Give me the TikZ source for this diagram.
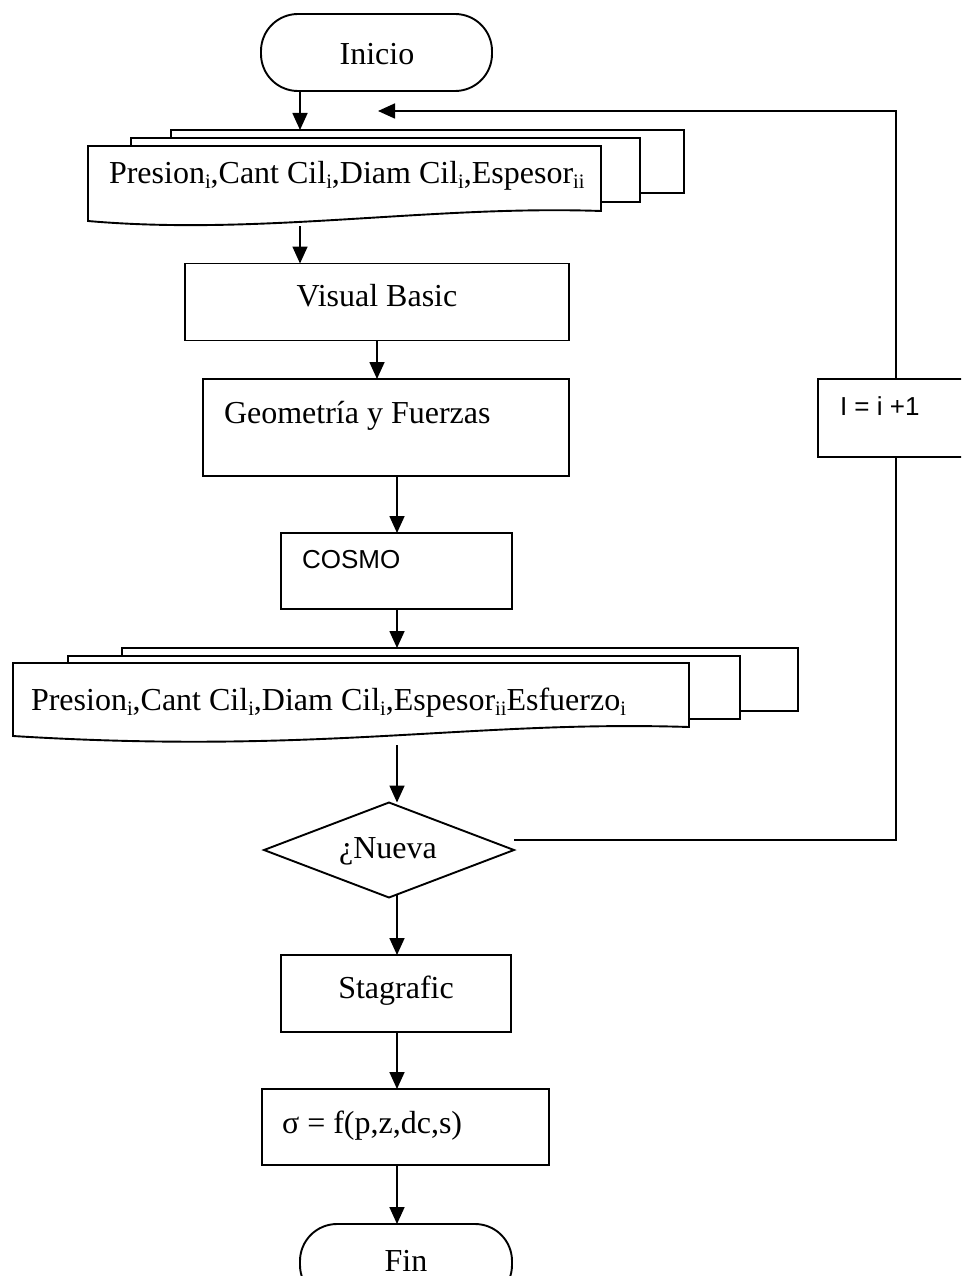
\documentclass[tikz,border=0pt]{standalone}
\usepackage{fontspec}
\setmainfont{Liberation Serif}
\newfontfamily\arialf{Liberation Sans}
\usetikzlibrary{arrows.meta,shapes.geometric}
\newcommand\sbs[1]{\raisebox{-5pt}{\fontsize{20.5}{21}\selectfont #1}}
\begin{document}
\begin{tikzpicture}[x=1pt,y=-1pt,
  every node/.style={inner sep=0pt, outer sep=0pt},
  ln/.style={line width=1.9pt},
  box/.style={draw, line width=1.9pt, fill=white},
  arr/.style={line width=1.7pt, -{Triangle[length=17pt,width=15pt]}},
  tms/.style={font=\fontsize{32}{37}\selectfont},
  ari/.style={font=\arialf\fontsize{26}{30}\selectfont},
]
\useasboundingbox (0,0) rectangle (961,1276);
\clip (0,0) rectangle (961,1276);

\coordinate (c300) at (300,0);
\coordinate (c397) at (397,0);

% Inicio
\node[box, rounded corners=37pt, minimum width=231pt, minimum height=77pt] (inicio) at (376.5,52.5) {};
\node[tms, anchor=base] (iniciot) at (377,65) {Inicio};

% document stack 1
\node[box, anchor=north west, minimum width=513pt, minimum height=63pt] (d1c) at (171,130) {};
\node[box, anchor=north west, minimum width=509pt, minimum height=64pt] (d1b) at (131,138) {};
\draw[ln, fill=white] (88,146) -- (601,146) -- (601,211) .. controls (430,205) and (260,236) .. (88,221) -- cycle;
\node[tms, anchor=base west] (d1t) at (109,184) {Presion\sbs{i},Cant Cil\sbs{i},Diam Cil\sbs{i},Espesor\sbs{ii}};
\coordinate (d1bot) at (300,226);

% Visual Basic
\node[box, minimum width=384pt, minimum height=77pt] (vb) at (377,302) {};
\node[tms, anchor=base] (vbt) at (377,306) {Visual Basic};

% Geometria
\node[box, minimum width=366pt, minimum height=97pt] (geo) at (386,427.5) {};
\node[tms, anchor=base west] (geot) at (224,423) {Geometría y Fuerzas};

% COSMO
\node[box, minimum width=231pt, minimum height=76pt] (cosmo) at (396.5,571) {};
\node[ari, anchor=base west] (cosmot) at (302,568) {COSMO};

% document stack 2
\node[box, anchor=north west, minimum width=676pt, minimum height=63pt] (d2c) at (122,648) {};
\node[box, anchor=north west, minimum width=672pt, minimum height=63pt] (d2b) at (68,656) {};
\draw[ln, fill=white] (13,663) -- (689,663) -- (689,727) .. controls (470,720) and (320,755) .. (13,736) -- cycle;
\node[tms, anchor=base west] (d2t) at (31,710) {Presion\sbs{i},Cant Cil\sbs{i},Diam Cil\sbs{i},Espesor\sbs{ii}Esfuerzo\sbs{i}};
\coordinate (d2bot) at (397,745);

% decision
\node[draw, line width=1.9pt, diamond, minimum width=250pt, minimum height=95pt] (nueva) at (389,850) {};
\node[tms] (nuevat) at (388,851) {¿Nueva};

% I = i + 1
\node[box, minimum width=157pt, minimum height=78pt] (ibox) at (896.5,418) {};
\node[ari, anchor=base west] (it) at (840,415) {I = i +1};

% Stagrafic
\node[box, minimum width=230pt, minimum height=77pt] (stag) at (396,993.5) {};
\node[tms, anchor=base] (stagt) at (396,998) {Stagrafic};

% sigma
\node[box, minimum width=287pt, minimum height=76pt] (sig) at (405.5,1127) {};
\node[tms, anchor=base west] (sigt) at (282,1133) {σ = f(p,z,dc,s)};

% Fin
\node[box, rounded corners=37pt, minimum width=212pt, minimum height=78pt] (fin) at (406,1263) {};
\node[tms, anchor=base] (fint) at (406,1271) {Fin};

% connectors
\draw[arr] (inicio.south -| c300) -- (d1c.north -| c300);
\draw[arr] (d1bot) -- (vb.north -| d1bot);
\draw[arr] (vb.south) -- (geo.north -| vb.south);
\draw[arr] (geo.south -| c397) -- (cosmo.north -| c397);
\draw[arr] (cosmo.south -| c397) -- (d2c.north -| c397);
\draw[arr] (d2bot) -- (nueva.north -| d2bot);
\draw[arr] ([yshift=4pt]nueva.south -| c397) -- (stag.north -| c397);
\draw[arr] (stag.south -| c397) -- (sig.north -| c397);
\draw[arr] (sig.south -| c397) -- (fin.north -| c397);

\coordinate (r1) at (896,840);
\coordinate (r2) at (896,111);
\coordinate (r3) at (378,111);
\draw[ln] (nueva.east |- r1) -- (r1) -- (ibox.south -| r1);
\draw[arr] (ibox.north -| r2) -- (r2) -- (r3);
\end{tikzpicture}
\end{document}
